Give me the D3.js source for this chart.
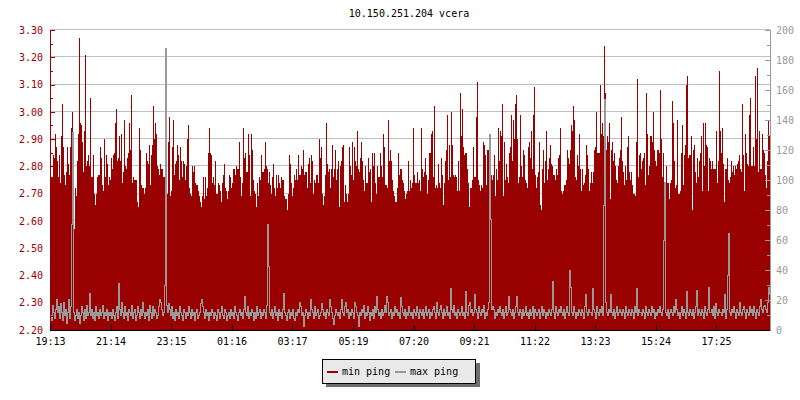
<!DOCTYPE html>
<html>
<head>
<meta charset="utf-8">
<script src="https://cdn.jsdelivr.net/npm/d3@7"></script>
<style>
  html, body { margin: 0; padding: 0; background: #ffffff; }
  svg { display: block; }
  text { font-family: "DejaVu Sans Mono", "Liberation Mono", monospace; font-size: 10px; }
</style>
</head>
<body>
<svg id="chart" width="800" height="400"></svg>
<script>
// ---------------- DATA ----------------
const title = "10.150.251.204 vcera";
const startTime = "19:13";
const stepMinutes = 2;
const seriesNames = ["min ping", "max ping"];
const xTickLabels = ["19:13","21:14","23:15","01:16","03:17","05:19","07:20","09:21","11:22","13:23","15:24","17:25"];
const leftTicks = [2.20,2.30,2.40,2.50,2.60,2.70,2.80,2.90,3.00,3.10,3.20,3.30];
const rightTicks = [0,20,40,60,80,100,120,140,160,180,200];

// min ping (left axis), one value per 2 minutes
const minPing = [
2.92,2.76,2.76,2.84,2.83,2.92,2.87,2.82,2.76,2.84,
2.74,2.91,3.03,2.87,2.77,2.73,2.78,2.87,2.81,2.77,
2.87,2.94,3.00,2.84,2.57,2.72,2.69,2.82,2.92,3.27,
2.96,2.95,2.89,2.78,2.93,3.21,2.80,2.82,2.84,2.80,
3.05,2.76,2.76,2.84,2.70,2.66,2.70,2.76,2.77,2.77,
2.87,2.83,2.73,2.71,2.90,2.76,2.84,2.81,2.73,2.76,
2.75,2.83,2.79,2.84,2.85,2.96,3.01,2.82,2.83,2.91,
2.82,2.92,2.74,2.78,2.97,2.80,2.79,2.83,2.85,2.96,
2.86,3.06,2.74,2.76,2.75,2.75,2.75,2.67,2.65,2.94,
2.86,2.73,2.72,2.72,2.70,2.72,2.85,2.82,2.81,2.88,
2.73,2.84,2.88,3.02,2.90,2.96,2.92,2.80,2.79,2.77,
2.81,2.79,2.79,2.76,2.76,2.79,2.65,2.70,2.89,2.98,
2.69,2.71,2.87,2.97,2.77,2.81,2.82,2.88,2.84,2.75,
2.87,2.82,2.76,2.82,2.81,2.75,2.80,2.90,2.95,2.72,
2.70,2.69,2.80,2.78,2.80,2.74,2.73,2.73,2.71,2.69,
2.67,2.65,2.69,2.76,2.68,2.76,2.69,2.72,2.85,2.94,
2.85,2.84,2.74,2.76,2.73,2.82,2.70,2.70,2.74,2.73,
2.71,2.67,2.74,2.77,2.81,2.72,2.71,2.68,2.71,2.77,

2.76,2.72,2.74,2.79,2.79,2.77,2.80,2.79,2.79,2.89,
2.76,2.69,2.74,2.94,2.83,2.85,2.78,2.78,2.92,2.84,
2.69,2.92,2.86,2.75,2.71,2.70,2.65,2.74,2.69,2.76,
2.75,2.84,2.78,2.78,2.79,2.89,2.80,2.79,2.74,2.78,
2.73,2.70,2.76,2.81,2.72,2.69,2.77,2.72,2.77,2.74,
2.72,2.76,2.75,2.75,2.69,2.68,2.68,2.64,2.70,2.84,
2.81,2.74,2.69,2.72,2.77,2.75,2.79,2.75,2.84,2.77,
2.77,2.80,2.79,2.86,2.77,2.78,2.78,2.72,2.81,2.83,
2.74,2.84,2.82,2.70,2.75,2.74,2.77,2.77,2.74,2.90,
2.83,2.87,2.70,2.66,2.69,2.77,2.96,2.81,2.78,2.79,
2.72,2.79,2.88,2.76,2.79,2.86,2.75,2.79,2.82,2.65,
2.80,2.82,2.87,2.88,2.67,2.73,2.70,2.67,2.70,2.87,
2.80,2.77,2.89,2.75,2.87,2.82,2.80,2.93,2.79,2.78,
2.83,2.89,2.82,2.75,2.71,2.80,2.74,2.74,2.83,2.78,
2.79,2.67,2.85,2.80,2.85,2.74,2.70,2.80,2.76,2.76,
2.85,2.80,2.76,2.92,2.87,2.73,2.73,2.72,2.97,2.82,
2.86,2.82,2.75,2.71,2.69,2.67,2.67,2.72,2.85,2.77,
2.79,2.79,2.75,2.74,2.71,2.68,2.70,2.71,2.82,2.71,

2.75,2.72,2.74,2.94,2.77,2.74,2.74,2.78,2.74,2.75,
2.71,2.94,2.79,2.76,2.78,2.83,2.77,2.70,2.75,2.85,
2.85,2.92,2.93,2.76,3.02,2.72,2.73,2.72,2.81,2.74,
2.72,2.83,2.77,2.66,2.74,2.82,2.86,2.99,2.75,2.88,
2.76,3.00,2.88,2.77,2.76,2.77,2.76,2.71,2.82,2.71,
3.07,2.91,3.01,2.87,2.84,2.85,2.85,2.79,2.74,2.65,
2.72,2.72,2.75,2.87,2.76,2.76,2.98,3.11,2.75,2.73,
2.71,2.73,2.72,2.89,2.88,2.84,2.73,2.86,2.86,2.86,
2.81,2.77,2.75,2.77,2.84,2.69,2.79,2.75,2.94,2.82,
2.93,2.91,3.03,2.69,2.89,2.75,2.81,2.76,2.74,2.85,
2.87,2.99,2.82,2.97,2.90,3.03,3.06,2.90,2.74,2.76,
2.99,2.80,2.76,2.86,2.84,2.75,2.74,2.72,2.87,2.89,
2.83,2.93,2.79,2.99,3.09,2.77,2.72,2.76,2.78,2.89,
2.66,2.64,2.79,2.86,2.74,2.82,2.93,2.75,2.79,2.83,
2.88,2.81,2.80,2.77,2.77,2.75,2.79,2.77,2.83,2.84,
2.94,2.71,2.70,2.71,2.73,2.73,2.75,2.86,2.83,2.81,
2.86,2.95,2.93,3.02,2.97,2.76,2.75,2.84,2.80,2.92,
2.79,2.71,2.79,2.73,2.74,2.77,2.88,2.84,2.79,2.71,

2.74,2.78,2.74,2.78,2.86,2.87,3.00,2.85,2.85,2.85,
3.10,2.92,2.96,2.91,3.24,3.07,2.86,2.91,2.89,2.96,
2.68,2.86,2.89,2.82,2.85,2.80,2.75,2.74,2.80,2.83,
2.86,2.98,2.82,2.78,2.73,2.80,2.75,2.87,2.91,2.78,
2.75,2.78,2.73,2.70,2.70,2.69,2.89,3.12,2.76,2.84,
2.85,2.79,2.82,2.83,2.85,2.73,3.07,2.92,2.77,2.80,
2.91,2.91,2.89,3.00,2.86,2.82,2.80,2.86,2.86,2.85,
3.08,2.90,2.76,2.85,2.73,2.74,2.80,2.74,2.74,2.68,
2.74,2.75,3.04,2.96,2.82,2.72,2.73,2.97,2.70,2.70,
2.71,2.85,2.95,2.73,2.84,2.88,3.10,3.13,2.83,2.84,
2.84,2.91,2.64,2.86,2.88,2.78,2.74,2.83,2.76,2.82,
2.85,2.91,2.71,2.96,2.80,2.96,2.88,2.87,2.71,2.83,
2.82,2.79,2.82,2.79,2.79,2.79,2.93,2.74,2.82,3.15,
2.93,2.85,2.94,2.81,2.67,2.79,2.79,2.83,2.75,2.74,
2.76,2.82,2.78,2.80,2.77,2.80,2.79,2.81,2.82,2.84,
2.79,2.78,3.03,2.84,2.71,2.92,2.85,2.81,2.80,2.99,
3.05,2.80,2.80,2.87,2.80,3.13,2.90,3.16,2.78,2.93,
2.79,2.79,2.92,2.86,2.85,2.77,2.72,2.82,2.97,2.91
];

// max ping (right axis), one value per 2 minutes
const maxPing = [
10,7,17,12,8,14,21,12,16,8,
18,12,7,19,10,14,5,12,21,8,
16,71,132,12,7,10,14,8,12,5,
10,16,12,7,14,8,17,10,12,25,
10,14,8,12,7,16,10,12,8,14,
10,12,17,8,12,10,14,7,12,10,
12,8,14,10,7,12,16,8,31,14,
10,19,12,8,16,10,12,7,14,12,
10,17,8,12,14,7,10,16,12,8,
14,10,19,12,8,12,10,14,7,17,
12,8,16,10,14,12,8,10,16,21,
19,14,10,12,30,188,17,12,18,14,
10,16,8,12,7,14,10,12,8,16,
12,10,7,14,12,8,12,10,16,12,
8,14,10,12,7,12,14,8,10,12,
18,21,16,12,8,14,10,12,7,12,
10,14,12,8,12,10,7,14,12,8,
12,16,10,8,14,12,7,10,12,8,
14,10,12,8,16,12,10,7,12,14,
10,12,8,14,23,12,10,16,8,12,
10,14,12,7,12,8,16,10,12,14,
8,12,10,14,12,8,17,71,43,12,
10,14,8,12,16,10,12,7,14,10,
12,8,14,25,12,10,7,12,14,8,
12,10,14,8,7,12,10,14,12,19,
16,10,12,3,10,14,12,8,12,10,
21,14,12,8,16,10,12,14,8,10,
12,18,14,10,12,8,14,12,10,21,
16,12,8,4,10,14,12,10,12,8,
14,21,12,10,16,19,12,14,8,12,
10,14,12,8,19,16,12,10,3,12,
10,14,12,17,8,12,10,16,12,7,
12,10,14,8,16,12,23,14,10,12,
8,14,10,12,17,12,23,19,10,12,
14,8,12,10,16,12,14,10,12,8,
22,16,12,10,14,8,12,10,16,12,
10,12,8,14,12,10,16,12,8,14,
12,10,14,8,12,16,10,12,14,8,
12,10,14,16,12,8,19,12,10,14,
17,12,8,14,10,12,16,10,12,8,
28,14,12,17,10,12,8,14,12,10,
12,16,10,12,8,26,12,10,17,19,
12,14,10,12,24,14,12,8,16,12,
10,14,12,17,8,12,10,14,19,131,
74,14,16,14,8,12,10,14,12,16,
12,10,14,8,12,16,10,12,23,14,
12,10,14,8,12,16,23,12,10,14,
12,8,14,10,12,16,10,12,8,14,
10,12,16,8,14,12,10,12,14,8,
12,16,10,14,12,8,12,10,14,12,
10,14,33,12,8,16,12,10,14,12,
16,12,10,14,8,12,16,12,10,40,
29,12,10,16,12,8,12,10,14,12,
10,14,12,8,16,24,12,10,14,12,
12,10,28,14,12,8,16,12,10,14,
12,16,10,83,154,19,12,10,14,12,
24,12,10,14,8,12,16,10,12,14,
12,10,14,12,8,16,12,10,14,12,
10,14,12,8,16,12,28,10,14,12,
12,10,14,12,8,16,12,10,14,12,
10,16,12,14,8,12,10,14,12,16,
12,10,14,60,99,12,10,14,8,12,
14,12,10,16,12,21,14,10,12,8,
12,16,10,14,12,8,26,12,10,14,
12,10,14,8,12,16,27,10,14,12,
10,14,12,8,16,12,10,14,29,12,
12,14,10,16,8,18,12,10,14,12,
12,10,14,12,24,8,14,37,65,12,
10,14,12,16,12,8,14,12,10,19,
12,10,14,16,12,8,14,12,10,16,
12,14,10,16,12,8,14,12,10,16,
21,14,12,16,17,14,12,19,29,24
];

// ---------------- CHART ----------------
const W = 800, H = 400;
const plot = { left: 50, right: 770, top: 30, bottom: 330 };
const red = "#990000", gray = "#999999";

const svg = d3.select("#chart");
svg.append("rect").attr("width", W).attr("height", H).attr("fill", "#ffffff");

const [sh, sm] = startTime.split(":").map(Number);
const t0 = new Date(2000, 0, 1, sh, sm);
const nPoints = Math.max(minPing.length, maxPing.length);
const t1 = d3.timeMinute.offset(t0, nPoints * stepMinutes);
const timeAt = i => d3.timeMinute.offset(t0, i * stepMinutes);

const x = d3.scaleTime().domain([t0, t1]).range([plot.left, plot.right]);
const yL = d3.scaleLinear().domain([2.2, 3.3]).range([plot.bottom, plot.top]);
const yR = d3.scaleLinear().domain([0, 200]).range([plot.bottom, plot.top]);

// tick times from labels (roll over midnight)
const xTickTimes = xTickLabels.map(lbl => {
  const [h, m] = lbl.split(":").map(Number);
  let d = new Date(2000, 0, 1, h, m);
  if (d < t0) d = d3.timeDay.offset(d, 1);
  return d;
});

// grid lines (behind data)
svg.append("g")
  .selectAll("line")
  .data(leftTicks)
  .join("line")
  .attr("x1", plot.left).attr("x2", plot.right)
  .attr("y1", d => Math.round(yL(d)) - 0.5)
  .attr("y2", d => Math.round(yL(d)) - 0.5)
  .attr("stroke", "#c0c0c0")
  .attr("stroke-width", 1);

// min ping area (stepped)
const minData = minPing.map((v, i) => ({ t: timeAt(i), v }));
minData.push({ t: t1, v: minPing[minPing.length - 1] });
const area = d3.area()
  .x(d => x(d.t))
  .y0(yL(2.2))
  .y1(d => yL(d.v))
  .curve(d3.curveStepAfter);
svg.append("path")
  .datum(minData)
  .attr("d", area)
  .attr("fill", red)
  .attr("shape-rendering", "crispEdges");

// max ping line (stepped, pixel aligned)
const maxData = maxPing.map((v, i) => ({ t: timeAt(i), v }));
const line = d3.line()
  .x(d => Math.round(x(d.t)) + 0.5)
  .y(d => Math.round(yR(d.v)) + 0.5)
  .curve(d3.curveStepAfter);
svg.append("path")
  .datum(maxData)
  .attr("d", line)
  .attr("fill", "none")
  .attr("stroke", gray)
  .attr("stroke-width", 1)
  .attr("shape-rendering", "crispEdges");

// left axis (red)
const leftMinor = d3.range(2.25, 3.3, 0.1);
const gLeftMinor = svg.append("g").attr("transform", `translate(${plot.left},0)`)
  .call(d3.axisLeft(yL).tickValues(leftMinor).tickSize(-3).tickFormat(""));
const gLeft = svg.append("g").attr("transform", `translate(${plot.left},0)`)
  .call(d3.axisLeft(yL).tickValues(leftTicks).tickSize(-5).tickPadding(7).tickFormat(d3.format(".2f")));
[gLeftMinor, gLeft].forEach(g => {
  g.select(".domain").remove();
  g.selectAll("line").attr("stroke", red).attr("shape-rendering", "crispEdges");
});
gLeft.selectAll("text").attr("fill", red)
  .style("font-family", '"DejaVu Sans Mono", monospace').style("font-size", "10px");
svg.append("line")
  .attr("x1", plot.left + 0.5).attr("x2", plot.left + 0.5)
  .attr("y1", plot.top).attr("y2", plot.bottom)
  .attr("stroke", red);

// right axis (gray)
const rightMinor = d3.range(10, 200, 20);
const gRightMinor = svg.append("g").attr("transform", `translate(${plot.right},0)`)
  .call(d3.axisRight(yR).tickValues(rightMinor).tickSize(-3).tickFormat(""));
const gRight = svg.append("g").attr("transform", `translate(${plot.right},0)`)
  .call(d3.axisRight(yR).tickValues(rightTicks).tickSize(-5).tickPadding(6).tickFormat(d3.format("d")));
[gRightMinor, gRight].forEach(g => {
  g.select(".domain").remove();
  g.selectAll("line").attr("stroke", gray).attr("shape-rendering", "crispEdges");
});
gRight.selectAll("text").attr("fill", gray)
  .style("font-family", '"DejaVu Sans Mono", monospace').style("font-size", "10px");
svg.append("line")
  .attr("x1", plot.right + 0.5).attr("x2", plot.right + 0.5)
  .attr("y1", plot.top).attr("y2", plot.bottom + 1)
  .attr("stroke", gray);

// bottom axis (black)
const gBottom = svg.append("g").attr("transform", `translate(0,${plot.bottom})`)
  .call(d3.axisBottom(x).tickValues(xTickTimes).tickSize(-5).tickPadding(8)
    .tickFormat((d, i) => xTickLabels[i]));
gBottom.select(".domain").remove();
gBottom.selectAll("line").attr("stroke", "#000").attr("shape-rendering", "crispEdges");
gBottom.selectAll("text").attr("fill", "#000")
  .style("font-family", '"DejaVu Sans Mono", monospace').style("font-size", "10px");
svg.append("line")
  .attr("x1", plot.left).attr("x2", plot.right)
  .attr("y1", plot.bottom + 0.5).attr("y2", plot.bottom + 0.5)
  .attr("stroke", "#000");

// title
svg.append("text")
  .attr("x", 409).attr("y", 17)
  .attr("text-anchor", "middle")
  .attr("fill", "#000")
  .text(title);

// legend
const lg = svg.append("g").attr("transform", "translate(322,359)");
lg.append("rect").attr("x", 4).attr("y", 4).attr("width", 154).attr("height", 24).attr("fill", "#6e6e6e");
lg.append("rect").attr("x", 0.5).attr("y", 0.5).attr("width", 153).attr("height", 24)
  .attr("fill", "#e9e9e9").attr("stroke", "#000").attr("stroke-width", 1);
const legendItems = [
  { name: seriesNames[0], color: red, sx: 5, tx: 20 },
  { name: seriesNames[1], color: gray, sx: 73, tx: 88 }
];
legendItems.forEach(it => {
  lg.append("rect").attr("x", it.sx).attr("y", 12).attr("width", 11).attr("height", 2).attr("fill", it.color);
  lg.append("text").attr("x", it.tx).attr("y", 16).attr("fill", "#000").text(it.name);
});
</script>
</body>
</html>
